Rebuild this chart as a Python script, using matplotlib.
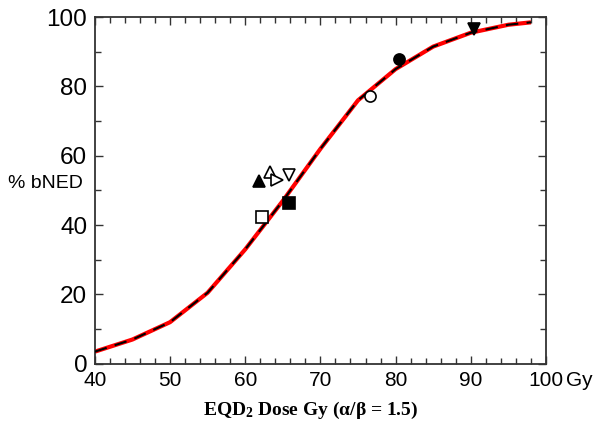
import matplotlib
matplotlib.use("Agg")
import matplotlib.pyplot as plt
import numpy as np

plt.rcParams['mathtext.fontset'] = 'custom'
plt.rcParams['mathtext.rm'] = 'Liberation Serif'
plt.rcParams['mathtext.bf'] = 'Liberation Serif:bold'
plt.rcParams['mathtext.it'] = 'Liberation Serif:italic'

# fitted dose-response curve
curve_x = [40, 45, 50, 55, 60, 65, 70, 75, 80, 85, 90, 95, 98]
curve_y = [3.5, 7, 12, 20.5, 33, 47, 62, 76, 85, 91.5, 95.5, 97.8, 98.5]

# data points
pt_x = [61.9, 63.3, 64.2, 65.8, 62.2, 65.8, 80.4, 76.6, 90.4]
pt_y = [52.7, 55.3, 53.0, 54.5, 42.4, 46.4, 87.9, 77.2, 96.5]
pt_marker = ['^', '^', '>', 'v', 's', 's', 'o', 'o', 'v']
pt_filled = [True, False, False, False, False, True, True, False, True]

xticks = [40, 50, 60, 70, 80, 90, 100]
xticklabels = ['40', '50', '60', '70', '80', '90', '100']
yticks = [0, 20, 40, 60, 80, 100]

fig = plt.figure(figsize=(6, 4.28), dpi=100)
ax = fig.add_axes([0.158, 0.15, 0.752, 0.81])

ax.plot(curve_x, curve_y, color='red', lw=3, solid_capstyle='butt', zorder=2)
ax.plot(curve_x, curve_y, color='black', lw=1.5, dashes=(6, 4), zorder=3)

for x, y, m, f in zip(pt_x, pt_y, pt_marker, pt_filled):
    ax.plot([x], [y], marker=m, markersize=8,
            markerfacecolor='black' if f else 'white',
            markeredgecolor='black', markeredgewidth=1.2, linestyle='none', zorder=4)

ax.set_xlim(40, 100)
ax.set_ylim(0, 100)
ax.set_xticks(xticks)
ax.set_xticklabels(xticklabels, fontfamily='Liberation Sans', fontsize=15)
ax.set_yticks(yticks)
ax.set_yticklabels([str(v) for v in yticks], fontfamily='Liberation Sans', fontsize=17.5)
ax.set_xticks(np.arange(40, 101, 2), minor=True)
ax.set_yticks(np.arange(0, 101, 10), minor=True)
ax.tick_params(axis='both', which='both', direction='in', top=True, right=True,
               width=1, color='#333333')
ax.tick_params(axis='x', which='major', length=6, pad=5)
ax.tick_params(axis='y', which='major', length=6, pad=5.5)
ax.tick_params(axis='both', which='minor', length=4)
for s in ax.spines.values():
    s.set_linewidth(1.3)
    s.set_color('#333333')

fig.text(0.075, 0.572, '% bNED', fontfamily='Liberation Sans', fontsize=14,
         ha='center', va='center')
fig.text(0.965, 0.11, 'Gy', fontfamily='Liberation Sans', fontsize=15,
         ha='center', va='center')
fig.text(0.517, 0.042, r'EQD$_\mathbf{2}$ Dose Gy (α/β = 1.5)',
         fontfamily='Liberation Serif', fontweight='bold', fontsize=14,
         ha='center', va='center')

fig.savefig('out.png', dpi=100)
